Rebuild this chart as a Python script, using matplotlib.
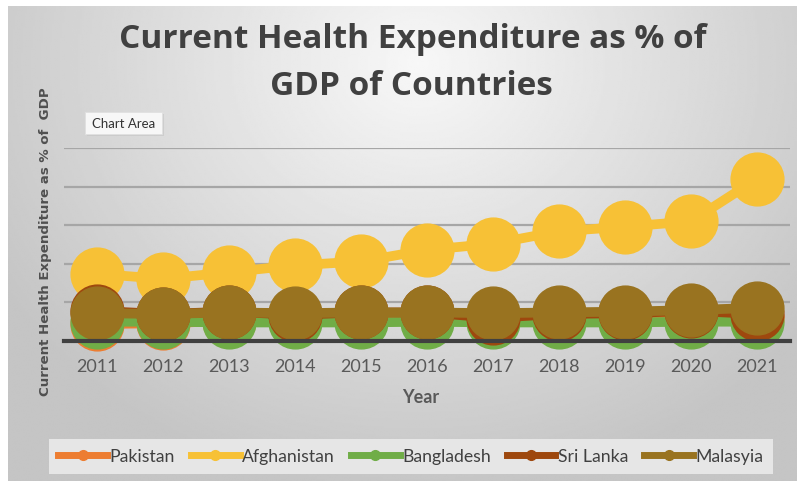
import numpy as np
import matplotlib
matplotlib.use('Agg')
import matplotlib.pyplot as plt
from matplotlib.patches import Rectangle

# Current health expenditure (% of GDP) by country
years = ['2011', '2012', '2013', '2014', '2015', '2016',
         '2017', '2018', '2019', '2020', '2021']
pakistan = [2.2, 2.3, 2.6, 2.7, 2.8, 2.9, 2.9, 3.0, 3.1, 3.1, 3.0]
afghanistan = [8.7, 8.05, 8.9, 9.8, 10.3, 11.8, 12.6, 14.2, 14.8, 15.5, 21.0]
bangladesh = [2.5, 2.5, 2.4, 2.4, 2.4, 2.5, 2.4, 2.4, 2.4, 2.5, 2.5]
sri_lanka = [3.9, 3.5, 3.8, 3.4, 3.7, 3.7, 3.0, 3.5, 3.6, 3.9, 3.5]
malaysia = [3.6, 3.5, 3.7, 3.6, 3.7, 3.7, 3.6, 3.7, 3.8, 4.0, 4.3]

series = [('Pakistan', pakistan, '#ED7D31'),
          ('Afghanistan', afghanistan, '#F7C136'),
          ('Bangladesh', bangladesh, '#70AD47'),
          ('Sri Lanka', sri_lanka, '#9E480E'),
          ('Malasyia', malaysia, '#997320')]

W, H = 802, 485
fig = plt.figure(figsize=(W / 100, H / 100), dpi=100)
fig.patch.set_facecolor('white')

# Chart area with a soft radial gray gradient
x0, y0, x1, y1 = 8, 7, 797, 482
bg = fig.add_axes([x0 / W, 1 - y1 / H, (x1 - x0) / W, (y1 - y0) / H])
gx, gy = np.meshgrid(np.linspace(0, 1, 400), np.linspace(0, 1, 300))
r = np.sqrt(((gx - 0.52) / 0.72) ** 2 + ((gy - 0.12) / 1.05) ** 2)
shade = np.clip(0.97 - 0.23 * r, 0.77, 0.97)
bg.imshow(shade, cmap='gray', vmin=0, vmax=1, aspect='auto',
          extent=(0, 1, 1, 0), interpolation='bilinear')
bg.set_xlim(0, 1)
bg.set_ylim(1, 0)
bg.axis('off')

# Plot area
pl, pr, pt, pb = 64, 790, 149, 342
ax = fig.add_axes([pl / W, 1 - pb / H, (pr - pl) / W, (pb - pt) / H])
ax.patch.set_alpha(0)
x = np.arange(len(years))
for name, vals, col in series:
    ax.plot(x, vals, color=col, lw=7, marker='o', ms=38,
            solid_capstyle='round', label=name, clip_on=False)

ax.set_xlim(-0.5, len(years) - 0.5)
ax.set_ylim(0, 25)
ax.set_yticks([5, 10, 15, 20, 25])
ax.yaxis.grid(True, color='#a6a6a6', lw=1.6)
ax.set_axisbelow(True)
ax.tick_params(axis='y', left=False, labelleft=False)
ax.set_xticks(x)
ax.set_xticklabels(years, fontsize=13, color='#595959', family='Lato')
ax.tick_params(axis='x', length=0, pad=12)
for s in ['top', 'right', 'left']:
    ax.spines[s].set_visible(False)
ax.spines['bottom'].set_color('#404040')
ax.spines['bottom'].set_linewidth(3)

fig.text(421 / W, 1 - 398 / H, 'Year', ha='center', va='center',
         fontsize=13, fontweight='bold', color='#595959', family='Lato')
fig.text(46 / W, 1 - 242 / H, 'Current Health Expenditure as % of  GDP',
         rotation=90, ha='center', va='center', fontsize=9.6,
         fontweight='bold', color='#505050', family='DejaVu Sans')

# Title
fig.text(413 / W, 1 - 48 / H, 'Current Health Expenditure as % of',
         ha='center', va='baseline', fontsize=24, fontweight='bold',
         color='#404040', family='Open Sans')
fig.text(411 / W, 1 - 95 / H, 'GDP of Countries',
         ha='center', va='baseline', fontsize=24, fontweight='bold',
         color='#404040', family='Open Sans')

# "Chart Area" tooltip
fig.patches.append(Rectangle((87 / W, 1 - 137 / H), 77 / W, 22 / H,
                             transform=fig.transFigure, facecolor='#c4c4c4',
                             edgecolor='none', alpha=0.6, zorder=2))
fig.patches.append(Rectangle((85 / W, 1 - 135 / H), 77 / W, 22 / H,
                             transform=fig.transFigure, facecolor='#f7f7f7',
                             edgecolor='#e0e0e0', lw=0.6, zorder=3))
fig.text(123.5 / W, 1 - 124 / H, 'Chart Area', ha='center', va='center',
         fontsize=9.5, color='#333333', family='Lato', zorder=4)

# Legend with line + small marker handles
handles = [plt.Line2D([], [], color=c, lw=5, marker='o', ms=7)
           for _, _, c in series]
leg = fig.legend(handles, [s[0] for s in series], loc='center',
                 bbox_to_anchor=(411 / W, 1 - 457.5 / H), ncol=5,
                 frameon=True, fancybox=False,
                 handlelength=2.76, handletextpad=0.15, columnspacing=0.9,
                 borderpad=0.55, prop={'family': 'Lato', 'size': 12.7})
leg.get_frame().set_facecolor('#e6e6e6')
leg.get_frame().set_edgecolor('none')
leg.get_frame().set_alpha(1)
for t in leg.get_texts():
    t.set_color('#404040')

fig.savefig('out.png', dpi=100)
